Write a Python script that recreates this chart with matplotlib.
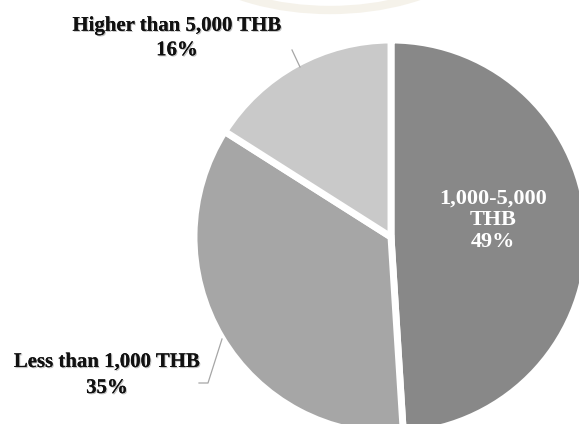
import matplotlib
matplotlib.use("Agg")
import matplotlib.pyplot as plt
from matplotlib.patches import Arc
import matplotlib.patheffects as pe

categories = ["1,000-5,000\nTHB", "Less than 1,000 THB", "Higher than 5,000 THB"]
shares = [49, 35, 16]
colors = ["#888888", "#a6a6a6", "#c9c9c9"]
explode = [0.023, 0, 0]

W, H = 579, 424
fig = plt.figure(figsize=(W / 100, H / 100), dpi=100)
ax = fig.add_axes([0, 0, 1, 1])

cx, cy, r = 391, H - 237, 197

# faint decorative background arc
ax.add_patch(Arc((330, H + 78), 330, 176, theta1=200, theta2=340,
                 color="#f3efe5", lw=6, alpha=0.8, zorder=0))

ax.pie(shares, colors=colors, startangle=90, counterclock=False,
       explode=explode, center=(cx, cy), radius=r,
       wedgeprops=dict(edgecolor="white", linewidth=5))

ax.set_xlim(0, W)
ax.set_ylim(0, H)
ax.set_aspect("equal")
ax.axis("off")

shadow = [pe.withSimplePatchShadow(offset=(0.8, -0.8), shadow_rgbFace="#999999", alpha=0.6), pe.Normal()]
font = ["Liberation Serif", "DejaVu Serif"]

ax.text(493, H - 220, f"{categories[0]}\n{shares[0]}%", ha="center", va="center",
        color="white", fontsize=16, fontweight="bold", family=font, linespacing=1.12)
ax.text(177, H - 38, f"{categories[2]}\n{shares[2]}%", ha="center", va="center",
        color="#111111", fontsize=15, fontweight="bold", family=font, linespacing=1.3,
        path_effects=shadow)
ax.text(107, H - 375, f"{categories[1]}\n{shares[1]}%", ha="center", va="center",
        color="#111111", fontsize=15, fontweight="bold", family=font, linespacing=1.4,
        path_effects=shadow)

# leader lines
ax.plot([292, 300], [H - 50, H - 67], color="#a6a6a6", lw=0.9)
ax.plot([199, 208, 222], [H - 383, H - 383, H - 339], color="#a6a6a6", lw=0.9)

fig.savefig("out.png", dpi=100)
